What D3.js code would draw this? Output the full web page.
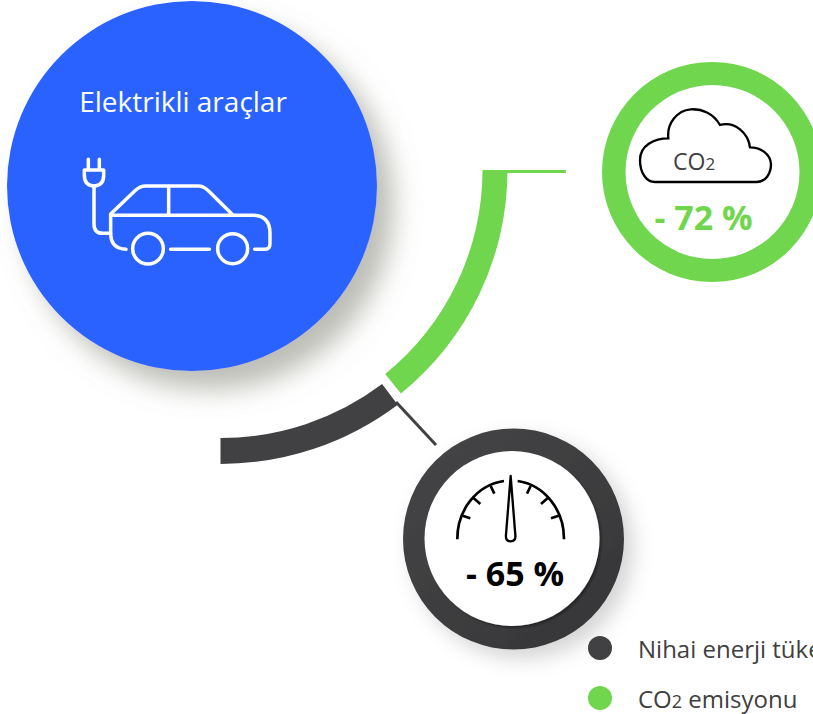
<!DOCTYPE html>
<html>
<head>
<meta charset="utf-8">
<script src="https://cdn.jsdelivr.net/npm/d3@7"></script>
<style>
  html, body { margin: 0; padding: 0; background: #fff; overflow: hidden; }
  svg { display: block; }
  text { font-family: "Open Sans", sans-serif; }
</style>
</head>
<body>
<div id="chart"></div>
<script>
var title = 'Elektrikli araçlar';
var categories = ['Nihai enerji tüketimi', 'CO2 emisyonu'];
var reductions = [65, 72];
// how many degrees of the quarter circle each series takes
var arcDegrees = [37, 51];
var colors = ['#414042', '#70d64e'];

var svg = d3.select('#chart').append('svg').attr('width', 813).attr('height', 714);

var defs = svg.append('defs');
function shadow(id, dx, dy, blur, color, opacity) {
    defs.append('filter').attr('id', id)
        .attr('x', '-30%').attr('y', '-30%').attr('width', '170%').attr('height', '170%')
        .append('feDropShadow')
        .attr('dx', dx).attr('dy', dy).attr('stdDeviation', blur)
        .attr('flood-color', color).attr('flood-opacity', opacity);
}
shadow('blueShadow', 17, 19, 13, '#7c7c70', 0.5);
shadow('ringShadow', 9, 9, 10, '#000', 0.17);
shadow('innerShadow', 2, 2, 1, '#000', 0.35);

var ringFill = defs.append('linearGradient').attr('id', 'ringFill')
    .attr('x1', '15%').attr('y1', '10%').attr('x2', '85%').attr('y2', '90%');
ringFill.append('stop').attr('offset', '0%').attr('stop-color', '#444446');
ringFill.append('stop').attr('offset', '100%').attr('stop-color', '#373739');

// blue circle
svg.append('circle').attr('cx', 192).attr('cy', 186).attr('r', 185)
    .attr('fill', '#2c62ff').attr('filter', 'url(#blueShadow)');
svg.append('text').attr('x', 183).attr('y', 112).attr('text-anchor', 'middle')
    .attr('font-size', 28).attr('fill', '#fff').text(title);

// car icon, drawn in the units of a 3x crop
var car = svg.append('g').attr('transform', 'translate(60,70) scale(0.3333)')
    .attr('fill', 'none').attr('stroke', '#fff').attr('stroke-width', 10.5)
    .attr('stroke-linecap', 'round').attr('stroke-linejoin', 'round');
car.append('path').attr('d', 'M85 268V300M118 268V300M73 300H131V316Q131 347 102 348Q73 347 73 316Z');
car.append('path').attr('d', 'M102 348V462Q102 490 128 490H152');
car.append('path').attr('d', 'M198 538Q152 536 152 490V432L225 362Q240 348 258 348H415Q430 348 445 362L518 434');
car.append('path').attr('d', 'M152 436H580Q630 438 630 490V522Q630 538 614 538H584');
car.append('path').attr('d', 'M332 538H448M326 350V434');
car.append('circle').attr('cx', 264).attr('cy', 536).attr('r', 46);
car.append('circle').attr('cx', 518).attr('cy', 536).attr('r', 45);

// the two arcs of the quarter circle
var toRad = d3.scaleLinear().domain([0, 180]).range([0, Math.PI]);
var arc = d3.arc();
svg.append('path')
    .attr('transform', 'translate(220.5,169.5)')
    .attr('fill', colors[0])
    .attr('d', arc({
        innerRadius: 268.5, outerRadius: 294.5,
        startAngle: toRad(180 - arcDegrees[0]), endAngle: toRad(180)
    }));
svg.append('path')
    .attr('transform', 'translate(220,170)')
    .attr('fill', colors[1])
    .attr('d', arc({
        innerRadius: 262.5, outerRadius: 287.5,
        startAngle: toRad(90), endAngle: toRad(90 + arcDegrees[1])
    }));

// leader lines
svg.append('line').attr('x1', 396).attr('y1', 402).attr('x2', 436).attr('y2', 445)
    .attr('stroke', colors[0]).attr('stroke-width', 3);
svg.append('line').attr('x1', 500).attr('y1', 171.5).attr('x2', 566).attr('y2', 171.5)
    .attr('stroke', colors[1]).attr('stroke-width', 3);

// green ring
svg.append('circle').attr('cx', 712).attr('cy', 172).attr('r', 110).attr('fill', colors[1]);
svg.append('circle').attr('cx', 712.5).attr('cy', 172).attr('r', 87).attr('fill', '#fff');

// cloud
svg.append('path').attr('transform', 'translate(600,60) scale(0.3333)')
    .attr('fill', 'none').attr('stroke', '#000').attr('stroke-width', 7)
    .attr('d', 'M165 366H470C498 366 513 340 513 312C511 282 482 262 450 262C445 220 405 183 360 195C340 160 305 146 272 148C232 151 200 190 205 235C165 235 120 255 120 300C120 340 140 366 165 366Z');
var co2 = svg.append('text').attr('x', 673).attr('y', 170).attr('font-size', 23).attr('fill', '#404040');
co2.append('tspan').text('CO');
co2.append('tspan').attr('font-size', 17).text('2');
svg.append('text').attr('x', 703.5).attr('y', 230).attr('text-anchor', 'middle')
    .attr('font-size', 34).attr('font-weight', 700).attr('fill', colors[1])
    .text('- ' + reductions[1] + ' %');

// dark ring
svg.append('circle').attr('cx', 513.5).attr('cy', 539).attr('r', 110.5)
    .attr('fill', 'url(#ringFill)').attr('filter', 'url(#ringShadow)');
svg.append('circle').attr('cx', 512).attr('cy', 538.5).attr('r', 87.5)
    .attr('fill', '#fff').attr('filter', 'url(#innerShadow)');

// gauge
var gauge = svg.append('g').attr('transform', 'translate(400,420) scale(0.3333)')
    .attr('fill', 'none').attr('stroke', '#000').attr('stroke-width', 8);
gauge.append('path').attr('d', 'M172 358A160 175 0 0 1 312 183M353 183A160 175 0 0 1 492 358');
gauge.append('path').attr('d', 'M188 287L211 295M218 232L241 252M272 198L283 221M392 198L381 221M446 232L423 252M476 287L453 295');
gauge.append('path').attr('fill', '#fff').attr('stroke-width', 7).attr('stroke-linejoin', 'round')
    .attr('d', 'M332 168L318 345Q316 364 332 364Q348 364 346 345Z');
svg.append('text').attr('x', 515).attr('y', 586).attr('text-anchor', 'middle')
    .attr('font-size', 34).attr('font-weight', 700).attr('fill', '#000')
    .text('- ' + reductions[0] + ' %');

// legend
var legendY = d3.scalePoint().domain(categories).range([648, 698]);
var legend = svg.selectAll('.legend').data(categories).enter().append('g').attr('class', 'legend');
legend.append('circle').attr('cx', 600).attr('cy', function(d) { return legendY(d); })
    .attr('r', 12).attr('fill', function(d, i) { return colors[i]; });
var legendText = legend.append('text').attr('x', 638)
    .attr('y', function(d) { return legendY(d) + 9.5; })
    .attr('font-size', 24).attr('fill', '#404040');
legendText.each(function(d) {
    var t = d3.select(this);
    if (d.indexOf('CO2') === 0) {
        t.append('tspan').text('CO');
        t.append('tspan').attr('font-size', 18).text('2');
        t.append('tspan').text(d.slice(3));
    } else {
        t.text(d);
    }
});
</script>
</body>
</html>
